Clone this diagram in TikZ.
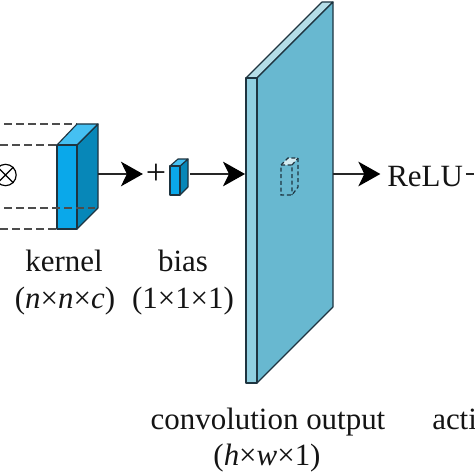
\documentclass[tikz,border=0pt]{standalone}
\usepackage{fontspec}
\setmainfont{Liberation Serif}
\usetikzlibrary{arrows.meta,calc}
\definecolor{kfront}{HTML}{0AA8EA}
\definecolor{ktop}{HTML}{45C0F2}
\definecolor{kside}{HTML}{0787B8}
\definecolor{pfront}{HTML}{68B8D0}
\definecolor{pside}{HTML}{90CFE0}
\definecolor{ptop}{HTML}{B5DEE8}
\definecolor{edge}{HTML}{1E3440}
\tikzset{
  px/.style={x=0.75pt,y=-0.75pt},
  face/.style={draw=edge,line width=0.85pt,line join=round},
  guide/.style={draw=black!70,line width=0.9pt,dash pattern=on 6pt off 3pt},
  flow/.style={draw=black!85,line width=0.95pt,-{Stealth[length=16.5pt,width=18.5pt,inset=4.5pt,color=black,fill=black]}},
  lab/.style={font=\fontsize{23.2}{23.2}\selectfont,inner sep=0pt,text=black!92},
  ghost/.style={draw=edge,line width=0.9pt,dash pattern=on 3pt off 2pt}
}
\begin{document}
\begin{tikzpicture}[px]
\useasboundingbox (0,0) rectangle (474,474);
\fill[white] (0,0) rectangle (474,474);
\coordinate (g1a) at (4,124);
\coordinate (g1b) at (77,124);
\coordinate (g2a) at (0,145);
\coordinate (g2b) at (57,145);
\coordinate (g4a) at (0,229);
\coordinate (g4b) at (57,229);
\draw[guide] (g1a) -- (g1b);
\draw[guide] (g2a) -- (g2b);
\draw[guide] (g4a) -- (g4b);
% kernel block
\filldraw[face,fill=kside] (77,145) -- (98,124) -- (98,208) -- (77,229) -- cycle;
\filldraw[face,fill=ktop] (57,145) -- (77,124) -- (98,124) -- (77,145) -- cycle;
\filldraw[face,fill=kfront] (57,145) rectangle (77,229);
\coordinate (g3a) at (4,208);
\coordinate (g3b) at (95,208);
\draw[guide] (g3a) -- (g3b);
% otimes
\node[draw=black,line width=0.9pt,circle,minimum size=16pt,inner sep=0pt] (otimes) at (5.5,175) {};
\draw[line width=0.9pt] (otimes.north west) -- (otimes.south east) (otimes.north east) -- (otimes.south west);
% kernel output
\coordinate (kout) at (98,174);
\node[lab,font=\fontsize{27}{27}\selectfont] (plus) at (156,174) {+};
\draw[flow,shorten >=2pt] (kout) -- (kout -| plus.west);
% bias
\filldraw[face,fill=kside] (180,166) -- (188,159) -- (188,187) -- (180,195) -- cycle;
\filldraw[face,fill=ktop] (170,166) -- (178,159) -- (188,159) -- (180,166) -- cycle;
\filldraw[face,fill=kfront] (170,166) rectangle (180,195);
\coordinate (bout) at (190,174);
\coordinate (pin) at (245,174);
\draw[flow] (bout) -- (pin);
% panel
\filldraw[face,fill=ptop] (246,78) -- (322,2) -- (333,2) -- (257,78) -- cycle;
\filldraw[face,fill=pfront] (257,78) -- (333,2) -- (333,307) -- (257,383) -- cycle;
\filldraw[face,fill=pside] (246,78) rectangle (257,383);
% ghost voxel
\fill[ptop!60!white] (281,165) -- (288,158) -- (298,158) -- (292,165) -- cycle;
\draw[ghost] (281,165) -- (288,158) -- (298,158) -- (298,187) -- (292,195) -- (281,195) -- cycle;
\draw[ghost] (281,165) -- (292,165) -- (292,195) (292,165) -- (298,158);
% panel output
\coordinate (pout) at (333,174);
\node[lab,anchor=base west] (relu) at (387,186) {ReLU};
\draw[flow,shorten >=5pt] (pout) -- (pout -| relu.west);
\coordinate (rout) at (474,174);
\draw[draw=black!85,line width=0.9pt] (rout -| relu.east) ++(2pt,0) -- (rout);
% labels
\node[lab,anchor=base] (kl) at (64,271) {kernel};
\node[lab,anchor=base] (kd) at (65,308) {(\textit{n}×\textit{n}×\textit{c})};
\node[lab,anchor=base] (bl) at (183,271) {bias};
\node[lab,anchor=base] (bd) at (183,308) {(1×1×1)};
\node[lab,anchor=base] (cl) at (268,429) {convolution output};
\node[lab,anchor=base] (cd) at (267,465) {(\textit{h}×\textit{w}×1)};
\node[lab,anchor=base west] (al) at (432,429) {acti};
\end{tikzpicture}
\end{document}
